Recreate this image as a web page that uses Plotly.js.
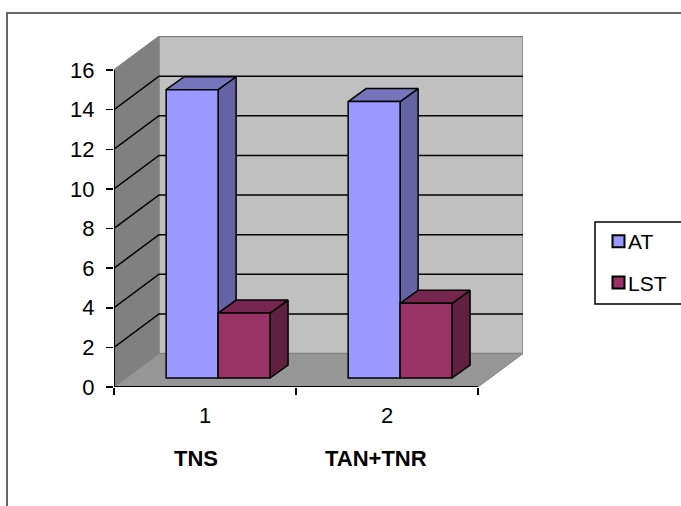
<!DOCTYPE html>
<html>
<head>
<meta charset="utf-8">
<script src="https://cdn.plot.ly/plotly-3.0.1.min.js"></script>
<style>html,body{margin:0;padding:0;background:#fff;overflow:hidden}</style>
</head>
<body>
<div id="chart" style="width:681px;height:506px"></div>
<script>
// Values
const categories = [1, 2];
const groupNames = ['TNS', 'TAN+TNR'];
const atValues = [14.55, 13.95];
const lstValues = [3.28, 3.77];
const yTicks = [0, 2, 4, 6, 8, 10, 12, 14, 16];

// Oblique projection, in axis units
const wallDx = 0.2473, wallDy = 1.69;   // front of the floor to the back wall
const barDx = 0.0989, barDy = 0.656;    // depth of one bar
const floorDx = 0.072, floorDy = 0.454; // front of the floor to the bar bases
const barWidth = 0.2855;
const xMin = 0.5, xMax = 2.5, yMax = 16;

const poly = pts => ({x: pts.map(p => p[0]), y: pts.map(p => p[1])});
function faces(list) {
  const x = [], y = [];
  list.forEach(pts => {
    pts.concat([pts[0]]).forEach(p => { x.push(p[0]); y.push(p[1]); });
    x.push(null); y.push(null);
  });
  return {x, y};
}
const face = (pts, fill, z, line) => Object.assign(
  {type: 'scatter', mode: 'lines', fill: 'toself', fillcolor: fill, showlegend: false,
   hoverinfo: 'skip', cliponaxis: false, zorder: z,
   line: line || {color: '#000', width: 1.5}},
  faces(pts));
const stroke = (pts, color, width, z) => Object.assign(
  {type: 'scatter', mode: 'lines', showlegend: false, hoverinfo: 'skip', cliponaxis: false,
   zorder: z, line: {color, width}}, pts);

// Walls and floor
const backRight = xMax + wallDx;
const grey = {color: '#808080', width: 1.5};
const walls = [
  face([[[xMin, 0], [xMin + wallDx, wallDy], [xMin + wallDx, yMax + wallDy], [xMin, yMax]]], '#808080', 0, grey),
  face([[[xMin + wallDx, wallDy], [backRight, wallDy], [backRight, yMax + wallDy], [xMin + wallDx, yMax + wallDy]]], '#c0c0c0', 0, grey),
  face([[[xMin, 0], [xMin + wallDx, wallDy], [backRight, wallDy], [xMax, 0]]], '#969696', 0, {color: '#808080', width: 1})
];

// Grid lines run along the side wall and across the back wall
const gridX = [], gridY = [];
yTicks.filter(v => v > 0 && v < yMax).forEach(v => {
  gridX.push(xMin, xMin + wallDx, backRight, null);
  gridY.push(v, v + wallDy, v + wallDy, null);
});
const grid = stroke({x: gridX, y: gridY}, '#000', 1.5, 0);

// Front edges of the axes
const frontAxes = stroke(poly([[xMin, yMax], [xMin, 0], [xMax, 0]]), '#000', 2, 0);

// One bar's top and side faces, drawn from its value
function depthFaces(vals, left, right, topFill, sideFill, z) {
  const tops = [], sides = [];
  vals.forEach((v, i) => {
    const c = categories[i] + floorDx, y0 = floorDy, y1 = floorDy + v;
    const xl = c + left, xr = c + right;
    tops.push([[xl, y1], [xl + barDx, y1 + barDy], [xr + barDx, y1 + barDy], [xr, y1]]);
    sides.push([[xr, y0], [xr + barDx, y0 + barDy], [xr + barDx, y1 + barDy], [xr, y1]]);
  });
  return [face(sides, sideFill, z), face(tops, topFill, z)];
}
const bar = (name, vals, offset, color, z) => ({
  type: 'bar', name, x: categories.map(c => c + floorDx), y: vals,
  base: vals.map(() => floorDy), width: barWidth, offset,
  marker: {color, line: {color: '#000', width: 1.5}}, zorder: z, hoverinfo: 'skip', legendgroup: name
});

const data = [
  ...walls, grid, frontAxes,
  bar('AT', atValues, -barWidth, '#9999ff', 2),
  bar('LST', lstValues, 0, '#993366', 4),
  ...depthFaces(atValues, -barWidth, 0, '#7575bb', '#6464a4', 1),
  ...depthFaces(lstValues, 0, barWidth, '#75254e', '#60203f', 3)
];

const font = {family: '"Liberation Sans", Arial, sans-serif', color: '#000', size: 22};
const layout = {
  width: 681, height: 506, showlegend: true, barmode: 'overlay',
  margin: {l: 114, r: 158, t: 36, b: 119, autoexpand: false},
  paper_bgcolor: '#fff', plot_bgcolor: 'rgba(0,0,0,0)', font,
  xaxis: {
    range: [0.5, 0.5 + 409 / 182], tickmode: 'array', tickvals: categories,
    ticks: '', showgrid: false, zeroline: false, showline: false, ticklabelstandoff: 13,
    minor: {tickmode: 'array', tickvals: [0.5, 1.5, 2.5], ticks: 'outside', ticklen: 7, tickcolor: '#000', tickwidth: 1.5, showgrid: false}
  },
  yaxis: {
    range: [0, 351 / 19.8125], tickmode: 'array', tickvals: yTicks,
    ticks: 'outside', ticklen: 7, tickcolor: '#000', tickwidth: 1.5,
    showgrid: false, zeroline: false, showline: false, ticklabelstandoff: 7
  },
  legend: {
    x: (588 - 114) / 409, y: (387 - 221) / 351, xanchor: 'left', yanchor: 'top',
    borderwidth: 0, bgcolor: 'rgba(0,0,0,0)', tracegroupgap: 11, font: {size: 21},
    itemclick: false, itemdoubleclick: false
  },
  shapes: [
    // Outer chart frame
    {type: 'rect', xref: 'paper', yref: 'paper', x0: (7 - 114) / 409, x1: (700 - 114) / 409,
     y0: (387 - 520) / 351, y1: (387 - 13) / 351, line: {color: '#666', width: 2}, layer: 'below'},
    // Legend box
    {type: 'rect', xref: 'paper', yref: 'paper', x0: (595 - 114) / 409, x1: (700 - 114) / 409,
     y0: (387 - 304) / 351, y1: (387 - 222) / 351, line: {color: '#000', width: 1.5}, layer: 'below'}
  ],
  annotations: groupNames.map((t, i) => ({
    text: '<b>' + t + '</b>', x: categories[i] - (i ? 0.063 : 0.047), xref: 'x', yref: 'paper',
    y: (387 - 458) / 351, yanchor: 'middle', showarrow: false,
    font: {family: font.family, size: 22, color: '#000'}
  }))
};

Plotly.newPlot('chart', data, layout, {displayModeBar: false, staticPlot: true}).then(() => {
  // Sit the legend swatches close against their labels, with a heavier outline
  document.querySelectorAll('.legend .legendpoints').forEach(g => g.setAttribute('transform', 'translate(10.5,0)'));
  document.querySelectorAll('.legend .legendpoints path').forEach(p => { p.style.strokeWidth = '2px'; });
});
</script>
</body>
</html>
